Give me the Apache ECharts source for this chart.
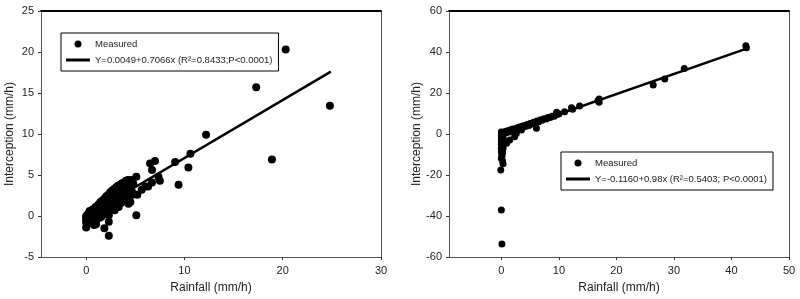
<!DOCTYPE html>
<html><head><meta charset="utf-8">
<script src="https://cdn.jsdelivr.net/npm/echarts@6/dist/echarts.min.js"></script>
<style>html,body{margin:0;padding:0;background:#fff}#c{width:800px;height:299px}</style>
</head><body><div id="c"></div>
<script>
// ---- Data ----
const xTicksL = [0, 10, 20, 30];
const yTicksL = [-5, 0, 5, 10, 15, 20, 25];
const xTicksR = [0, 10, 20, 30, 40, 50];
const yTicksR = [-60, -40, -20, 0, 20, 40, 60];

const measuredL = [
 [0,-0.8],[0,-0.5],[0,-0.2],[0,0.0],[0.1,-1.0],[0.1,-0.3],[0.1,0.1],[0.2,-0.6],[0.2,0.2],[0.3,-0.4],[0.3,0.0],[0.3,0.4],
 [0.4,-0.2],[0.4,0.3],[0.5,-0.5],[0.5,0.1],[0.5,0.5],[0.6,-0.1],[0.6,0.4],[0.7,0.0],[0.7,0.6],[0.8,-0.3],[0.8,0.3],[0.8,0.8],
 [0.9,0.1],[0.9,0.6],[1.0,-0.1],[1.0,0.4],[1.0,0.9],[1.1,0.2],[1.1,0.7],[1.2,0.0],[1.2,0.5],[1.2,1.1],[1.3,0.3],[1.3,0.9],
 [1.4,0.6],[1.4,1.2],[1.5,0.2],[1.5,0.8],[1.5,1.4],[1.6,0.5],[1.6,1.1],[1.7,0.8],[1.7,1.5],[1.8,0.4],[1.8,1.0],[1.8,1.7],
 [1.9,0.7],[1.9,1.3],[2.0,1.0],[2.0,1.6],[2.0,2.0],[2.1,0.6],[2.1,1.3],[2.2,1.0],[2.2,1.8],[2.3,1.4],[2.3,2.2],[2.4,0.9],
 [2.4,1.7],[2.5,1.3],[2.5,2.1],[2.5,2.5],[2.6,1.6],[2.7,1.1],[2.7,2.0],[2.7,2.6],[2.8,1.5],[2.8,2.3],[2.9,1.9],[2.9,2.8],
 [3.0,1.2],[3.0,2.1],[3.0,3.0],[3.1,1.7],[3.1,2.5],[3.2,2.2],[3.2,3.1],[3.3,1.8],[3.3,2.7],[3.4,2.4],[3.4,3.3],[3.5,2.0],
 [3.5,2.9],[3.6,2.6],[3.6,3.5],[3.7,3.1],[3.8,2.4],[3.8,3.6],[3.9,2.9],[4.0,3.3],[4.0,3.9],[4.1,2.6],[4.2,3.6],[4.3,3.0],
 [4.4,4.1],[4.5,3.4],[4.6,4.4],[4.7,2.6],[4.8,3.9],
 [0.15,-0.5],[0.35,0.6],[0.45,-0.7],[0.65,0.8],[0.75,-0.6],[0.95,1.1],[1.05,-0.5],[1.25,1.4],[1.35,-0.2],[1.45,1.7],
 [1.55,-0.1],[1.65,1.9],[1.75,0.2],[1.85,2.1],[1.95,0.4],[2.05,2.4],[2.15,0.3],[2.25,2.6],[2.45,2.9],[2.55,0.7],
 [2.65,3.1],[2.75,0.9],[2.85,3.3],[2.95,1.5],[3.05,3.5],[3.15,1.3],[3.25,3.7],[3.35,1.5],[3.45,3.8],[3.55,1.6],
 [3.65,4.0],[3.75,1.9],[3.85,4.1],[3.95,2.1],[4.05,4.3],[4.15,3.2],[4.25,4.4],[4.35,2.3],[4.55,3.9],[4.65,3.0],
 [0,-1.4],[0.8,-1.1],[1.0,-1.0],[1.85,-1.5],[2.3,-2.4],[2.3,-0.7],[2.3,0.1],[2.9,0.7],[3.3,1.1],[4.3,1.5],[4.5,1.7],
 [5.1,0.1],[4.5,2.8],[5.1,4.8],[5.2,2.6],[5.65,3.2],[6.0,3.6],[6.3,3.6],[6.5,6.4],[7.0,6.7],[6.7,5.6],[6.7,4.1],[7.35,4.8],[7.5,4.3],
 [9.05,6.6],[9.4,3.8],[10.4,5.9],[10.6,7.6],[12.2,9.9],[17.3,15.7],[18.9,6.9],[20.3,20.3],[24.8,13.45]
];
const fitL = [[0, 0.0], [24.9, 17.6]];

const measuredR = [
 [0,1.0],[0,0.0],[0,-1.0],[0,-2.0],[0,-3.0],[0.1,-4.0],[0,-5.0],[0.1,-6.0],[0,-7.0],[0,-8.6],[0.1,-10.0],[0,-12.0],
 [0.2,-13.0],[0.3,-14.5],[0.1,-11.0],[-0.1,-17.6],[0,-37.1],[0.1,-53.7],[0.2,-9.0],[0.3,-7.0],[0.4,-5.0],[0.3,-2.0],
 [0.2,0.6],[0.4,0.2],[0.5,1.0],[0.7,0.5],[0.8,1.3],[1.0,0.8],[1.1,1.5],[1.3,1.0],[1.4,1.8],[1.6,1.3],[1.7,2.1],[1.9,1.6],
 [2.0,2.4],[2.2,1.9],[2.4,2.6],[2.6,2.2],[2.8,3.0],[3.0,2.6],[3.2,3.4],[3.4,3.0],[3.6,3.8],[3.8,3.4],[4.0,4.2],[4.3,3.8],
 [4.5,4.6],[4.8,4.2],[5.0,5.1],[5.3,4.9],[5.6,5.7],[5.9,5.4],[6.2,6.3],[6.5,6.0],[6.8,6.9],[7.1,6.7],[7.4,7.4],[7.8,7.3],
 [8.1,8.1],[8.5,8.0],[8.8,8.7],[9.2,8.7],[9.6,9.5],[9.6,10.6],[10.0,9.8],[11.0,10.8],
 [0.9,-4.5],[1.0,-3.7],[1.45,-2.9],[2.3,-1.3],[2.6,0.3],[3.5,2.0],[5.5,5.2],[6.1,2.8],
 [12.2,12.8],[12.4,12.1],[13.6,13.7],[16.8,16.2],[17.0,15.5],[17.0,17.1],[26.4,23.9],[28.4,26.8],[31.8,32.0],[42.5,43.0],[42.6,42.1]
];
const fitR = [[0, -0.1], [42.5, 41.5]];

const seriesNames = ['Measured', 'Y=0.0049+0.7066x (R²=0.8433;P<0.0001)', 'Y=-0.1160+0.98x (R²=0.5403; P<0.0001)'];
const xTitle = 'Rainfall (mm/h)';
const yTitle = 'Interception (mm/h)';

// ---- Chart ----
const FONT = 'Liberation Sans, Arial, sans-serif';
const labelColor = '#222';
const axisGray = '#555';
const lineIcon = 'path://M0,0H24V3H0Z';

function mainX(gi, min, max, ticks) {
  return {
    type: 'value', gridIndex: gi, min: min, max: max, position: 'bottom',
    name: xTitle, nameLocation: 'middle', nameGap: 25,
    nameTextStyle: { fontFamily: FONT, fontSize: 12, color: labelColor },
    axisLine: { show: true, onZero: false, lineStyle: { color: axisGray, width: 1 } },
    axisTick: { show: true, inside: false, length: 3, customValues: ticks, lineStyle: { color: '#333' } },
    axisLabel: { customValues: ticks, margin: 8, fontFamily: FONT, fontSize: 11, color: labelColor },
    splitLine: { show: false }
  };
}
function topX(gi, min, max) {
  return {
    type: 'value', gridIndex: gi, min: min, max: max, position: 'top',
    axisLine: { show: true, onZero: false, lineStyle: { color: '#000', width: 2 } },
    axisTick: { show: false }, axisLabel: { show: false }, splitLine: { show: false }
  };
}
function mainY(gi, min, max, interval, gap) {
  return {
    type: 'value', gridIndex: gi, min: min, max: max, interval: interval, position: 'left',
    name: yTitle, nameLocation: 'middle', nameGap: gap, nameRotate: 90,
    nameTextStyle: { fontFamily: FONT, fontSize: 12, color: labelColor },
    axisLine: { show: true, onZero: false, lineStyle: { color: axisGray, width: 1 } },
    axisTick: { show: true, inside: false, length: 3, lineStyle: { color: '#333' } },
    axisLabel: { margin: 7, fontFamily: FONT, fontSize: 11, color: labelColor },
    splitLine: { show: false }
  };
}
function rightY(gi, min, max) {
  return {
    type: 'value', gridIndex: gi, min: min, max: max, position: 'right',
    axisLine: { show: true, onZero: false, lineStyle: { color: axisGray, width: 1 } },
    axisTick: { show: false }, axisLabel: { show: false }, splitLine: { show: false }
  };
}

const legendCommon = {
  orient: 'vertical', itemWidth: 24, itemHeight: 7, itemGap: 6,
  symbolKeepAspect: true,
  backgroundColor: '#fff', borderColor: '#000', borderWidth: 1,
  padding: [6, 6, 6, 5],
  textStyle: { fontFamily: FONT, fontSize: 9.5, color: labelColor, padding: [0, 0, 0, 0] },
  selectedMode: false
};

const chart = echarts.init(document.getElementById('c'), null, { renderer: 'canvas' });
chart.setOption({
  animation: false,
  backgroundColor: '#fff',
  grid: [
    { left: 41, top: 11, width: 340, height: 246 },
    { left: 449, top: 11, width: 340, height: 246 }
  ],
  xAxis: [
    mainX(0, -4.6, 30, xTicksL), topX(0, -4.6, 30),
    mainX(1, -9.1, 50, xTicksR), topX(1, -9.1, 50)
  ],
  yAxis: [
    mainY(0, -5, 25, 5, 25), rightY(0, -5, 25),
    mainY(1, -60, 60, 20, 26), rightY(1, -60, 60)
  ],
  legend: [
    Object.assign({}, legendCommon, { left: 61, top: 33, data: [
      { name: 'Measured', icon: 'circle' }, { name: seriesNames[1], icon: lineIcon } ] }),
    Object.assign({}, legendCommon, { left: 561, top: 152, data: [
      { name: 'Measured ', icon: 'circle' }, { name: seriesNames[2], icon: lineIcon } ],
      formatter: function (n) { return n.trim(); } })
  ],
  series: [
    { name: 'Measured', type: 'scatter', xAxisIndex: 0, yAxisIndex: 0, data: measuredL,
      symbol: 'circle', symbolSize: 8, itemStyle: { color: '#000', opacity: 1 }, z: 3 },
    { name: seriesNames[1], type: 'line', xAxisIndex: 0, yAxisIndex: 0, data: fitL,
      symbol: 'none', lineStyle: { color: '#000', width: 2.5 }, itemStyle: { color: '#000' }, z: 4 },
    { name: 'Measured ', type: 'scatter', xAxisIndex: 2, yAxisIndex: 2, data: measuredR,
      symbol: 'circle', symbolSize: 7, itemStyle: { color: '#000', opacity: 1 }, z: 3 },
    { name: seriesNames[2], type: 'line', xAxisIndex: 2, yAxisIndex: 2, data: fitR,
      symbol: 'none', lineStyle: { color: '#000', width: 2.5 }, itemStyle: { color: '#000' }, z: 4 }
  ]
});
</script>
</body></html>
